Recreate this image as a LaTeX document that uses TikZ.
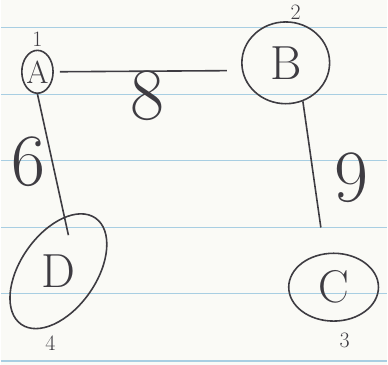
\documentclass[tikz,border=0pt]{standalone}
\usepackage{fontspec}
\usetikzlibrary{shapes.geometric, positioning}

\definecolor{paper}{RGB}{250,250,246}
\definecolor{rule}{RGB}{168,206,226}
\definecolor{pen}{RGB}{62,60,66}

\newcommand{\fs}[1]{\fontsize{#1}{#1}\selectfont}

\begin{document}
\begin{tikzpicture}[
  x=1pt, y=-1pt,
  vertex/.style={draw=pen, line width=1.6pt, ellipse, inner sep=0pt, text=pen},
  num/.style={text=pen, font=\fs{22}},
  wt/.style={text=pen, font=\fs{74}},
  edge/.style={draw=pen, line width=1.6pt}
]
% notebook page
\fill[paper] (0,0) rectangle (388,366);
\foreach \y in {28,95,161,228,294,362}
  \draw[rule, line width=1.1pt] (0,\y) -- (388,\y);
\useasboundingbox (0,0) rectangle (388,366);

% vertices
\node[vertex, minimum width=30, minimum height=43, font=\fs{32}] (A) at (37,72) {A};
\node[vertex, minimum width=88, minimum height=82, font=\fs{48}] (B) at (286,63) {B};
\node[vertex, minimum width=90, minimum height=68, font=\fs{46}] (C) at (334,288) {C};
\node[vertex, minimum width=130, minimum height=76, rotate=55, font=\fs{48}] (D) at (58,272) {\rotatebox{-55}{D}};

% vertex numbers
\node[num, above=0pt of A] (nA) {1};
\node[num, above=-2pt of B.north, xshift=10pt] (nB) {2};
\node[num, below=8pt of C.south, xshift=11pt] (nC) {3};
\node[num] (nD) at (50,344) {4};

% weighted edges
\draw[edge, shorten <=6pt, shorten >=15pt] (A.east) -- node[wt, below=-5pt] (w8) {8} (B.190);
\draw[edge, shorten >=37pt] (A.south) -- node[wt, left=3pt, pos=0.38] (w6) {6} ([xshift=18pt]D.center);
\draw[edge, shorten >=26pt] (B.-66) -- node[wt, right=17pt] (w9) {9} (C.105);
\end{tikzpicture}
\end{document}
